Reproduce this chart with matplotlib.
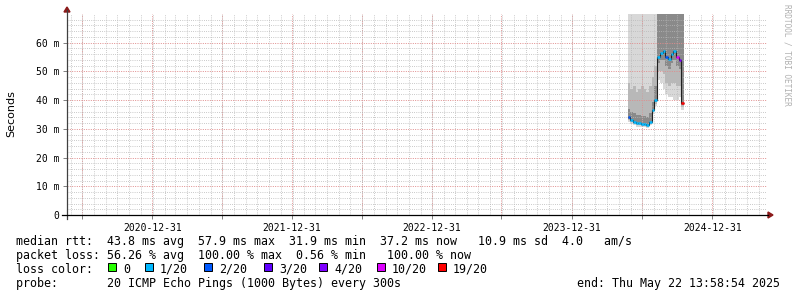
import numpy as np
import matplotlib.pyplot as plt
import matplotlib.dates as mdates
from matplotlib.patches import Rectangle, Polygon
from matplotlib.lines import Line2D
import pandas as pd

W, H = 797, 297

# bucket edges (weekly) where the target answered
bucket_edges = ["2024-05-24", "2024-05-31", "2024-06-07", "2024-06-14", "2024-06-21",
                "2024-06-28", "2024-07-05", "2024-07-12", "2024-07-19", "2024-07-26",
                "2024-08-02", "2024-08-09", "2024-08-16", "2024-08-23", "2024-08-30",
                "2024-09-06", "2024-09-13", "2024-09-20", "2024-09-27", "2024-10-04",
                "2024-10-11", "2024-10-18"]

# rtt in ms per bucket
median_ms = [34.0, 33.0, 32.3, 32.0, 32.0, 31.8, 31.7, 31.5, 32.5, 36.5, 40.0,
             55.0, 56.5, 57.0, 55.0, 54.5, 56.0, 57.0, 55.0, 54.0, 39.0]
ping_min = [32.5, 31.8, 31.2, 30.8, 30.8, 30.6, 30.5, 30.3, 31.3, 35.2, 38.0,
            47.0, 46.0, 44.0, 42.0, 41.0, 41.0, 40.0, 40.0, 41.0, 36.5]
ping_p10 = [33.2, 32.3, 31.7, 31.3, 31.3, 31.1, 31.0, 30.8, 31.8, 35.8, 38.8,
            50.0, 50.0, 49.0, 46.0, 45.0, 46.0, 46.0, 45.0, 45.0, 37.5]
ping_p25 = [33.6, 32.7, 32.0, 31.7, 31.7, 31.5, 31.4, 31.2, 32.2, 36.2, 39.4,
            53.0, 54.0, 54.0, 52.0, 51.0, 53.0, 54.0, 52.0, 51.0, 38.2]
ping_p75 = [37.0, 36.0, 35.5, 35.0, 35.0, 34.5, 34.5, 34.0, 35.5, 39.5, 45.0,
            80.0, 80.0, 80.0, 80.0, 80.0, 80.0, 80.0, 80.0, 80.0, 80.0]
ping_p90 = [46.0, 44.0, 45.0, 43.0, 44.0, 45.0, 44.0, 43.0, 45.0, 48.0, 52.0,
            80.0, 80.0, 80.0, 80.0, 80.0, 80.0, 80.0, 80.0, 80.0, 80.0]
ping_max = [80.0] * 21
loss = [2, 1, 1, 1, 1, 1, 1, 1, 1, 1, 1, 1, 1, 1, 2, 1, 1, 1, 10, 4, 19]

loss_levels = [0, 1, 2, 3, 4, 10, 19]
loss_colors = {0: "#26ff00", 1: "#00b8ff", 2: "#0059ff", 3: "#5e00ff",
               4: "#7e00ff", 10: "#dd00ff", 19: "#ff0000"}

year_labels = ["2020-12-31", "2021-12-31", "2022-12-31", "2023-12-31", "2024-12-31"]
half_years = ["2020-06-30", "2021-06-30", "2022-06-30", "2023-06-30", "2024-06-30"]
t_start, t_end = "2020-05-22 13:58:54", "2025-05-22 13:58:54"

mono = "DejaVu Sans Mono"

def dn(lst):
    return mdates.date2num(pd.to_datetime(lst))

fig = plt.figure(figsize=(W / 100, H / 100), dpi=100)
ax = fig.add_axes([67 / W, (H - 215) / H, (767 - 67) / W, (215 - 14) / H])

e = dn(bucket_edges)
# smoke: nested bands, outer lightest
for lo, hi, c in [(ping_min, ping_max, "#d8d8d8"),
                  (ping_p10, ping_p90, "#b8b8b8"),
                  (ping_p25, ping_p75, "#8a8a8a")]:
    ax.stairs(hi, e, baseline=lo, fill=True, color=c, lw=0, zorder=1)

ax.stairs(median_ms, e, baseline=None, color="#202020", lw=0.8, zorder=3)
ax.hlines(median_ms, e[:-1], e[1:], colors=[loss_colors[l] for l in loss],
          lw=1.8, zorder=4)

ax.set_xlim(dn([t_start])[0], dn([t_end])[0])
ax.set_ylim(0, 70)

# ticks & grid
major = np.sort(np.concatenate([dn(year_labels), dn(half_years)]))
labels = [d.strftime("%Y-%m-%d") if d.month == 12 else "" for d in mdates.num2date(major)]
ax.set_xticks(major, labels)
ax.xaxis.set_minor_locator(mdates.MonthLocator())
ax.set_yticks(np.arange(0, 70, 10), ["0"] + [f"{v} m" for v in range(10, 70, 10)])
ax.set_yticks(np.arange(0, 70, 2), minor=True)

ax.grid(which="minor", color="#b8b8b8", lw=0.6, ls=(0, (1, 1.6)))
ax.grid(which="major", color="#e08c8c", lw=0.7, ls=(0, (1, 1.4)))
ax.set_axisbelow(False)
for s in ax.spines.values():
    s.set_visible(False)
ax.tick_params(which="major", length=3, width=0.7, color="#808080",
               labelsize=7, pad=2.5)
ax.tick_params(which="minor", length=0)
for lab in ax.get_xticklabels() + ax.get_yticklabels():
    lab.set_family(mono)

def px(x, y):
    return (x / W, 1 - y / H)

# axis lines with arrows
fig.add_artist(Line2D([67 / W, 67 / W], [1 - 219 / H, 1 - 10 / H], color="#404040", lw=0.9))
fig.add_artist(Line2D([62 / W, 768 / W], [1 - 215 / H, 1 - 215 / H], color="#000000", lw=0.9))
fig.add_artist(Polygon([px(64, 12), px(70, 12), px(67, 7)], closed=True, color="#8b1a1a"))
fig.add_artist(Polygon([px(768, 212), px(768, 218), px(773, 215)], closed=True, color="#8b1a1a"))

fig.text(11 / W, 1 - 114 / H, "Seconds", rotation=90, ha="center", va="center",
         fontsize=8, family="DejaVu Sans")
fig.text(787 / W, 1 - 4 / H, "RRDTOOL / TOBI OETIKER", rotation=270, ha="center",
         va="top", fontsize=5.6, family=mono, color="#b0b0b0")

# legend text block
fs = 8.4
line1 = "median rtt:  43.8 ms avg  57.9 ms max  31.9 ms min  37.2 ms now   10.9 ms sd  4.0   am/s"
line2 = "packet loss: 56.26 % avg  100.00 % max  0.56 % min   100.00 % now"
fig.text(16 / W, 1 - 245 / H, line1, family=mono, fontsize=fs, va="baseline")
fig.text(16 / W, 1 - 259 / H, line2, family=mono, fontsize=fs, va="baseline")
fig.text(16 / W, 1 - 273 / H, "loss color:", family=mono, fontsize=fs, va="baseline")
fig.text(16 / W, 1 - 287 / H, "probe:       20 ICMP Echo Pings (1000 Bytes) every 300s",
         family=mono, fontsize=fs, va="baseline")
fig.text(780 / W, 1 - 287 / H, "end: Thu May 22 13:58:54 2025",
         family=mono, fontsize=fs, va="baseline", ha="right")

box_x = [108, 145, 204, 264, 319, 377, 438]
for bx, lv in zip(box_x, loss_levels):
    fig.add_artist(Rectangle((bx / W, 1 - 271 / H), 8 / W, 8 / H, transform=fig.transFigure,
                             facecolor=loss_colors[lv], edgecolor="black", lw=0.7))
    fig.text((bx + 15) / W, 1 - 273 / H, "0" if lv == 0 else f"{lv}/20",
             family=mono, fontsize=fs, va="baseline")

fig.savefig("out.png", dpi=100)
